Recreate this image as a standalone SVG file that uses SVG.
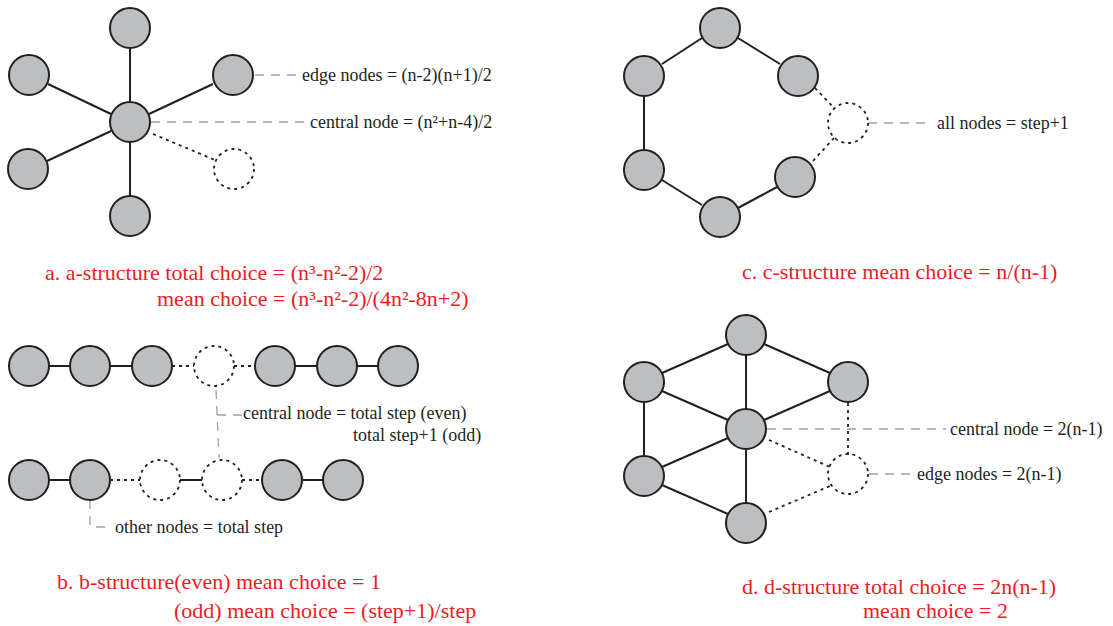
<svg xmlns="http://www.w3.org/2000/svg" width="1113" height="626" viewBox="0 0 1113 626">
<style>
.node{fill:#bcbec0;stroke:#231f20;stroke-width:2}
.ghost{fill:none;stroke:#231f20;stroke-width:1.8;stroke-dasharray:3 4}
.e{stroke:#231f20;stroke-width:2;fill:none}
.d{stroke:#231f20;stroke-width:1.8;stroke-dasharray:3 4;fill:none}
.l{stroke:#a0a0a0;stroke-width:1.3;stroke-dasharray:9 7;fill:none}
.t{font-family:"Liberation Serif","Times New Roman",serif;font-size:18px;fill:#231f20}
.r{font-family:"Liberation Serif","Times New Roman",serif;font-size:22px;fill:#ed1c24}
</style>
<rect width="1113" height="626" fill="#ffffff"/>
<g id="connectors">
<line class="e" x1="130" y1="48" x2="130" y2="103"/>
<line class="e" x1="48" y1="84" x2="111" y2="114"/>
<line class="e" x1="213" y1="84" x2="149" y2="114"/>
<line class="e" x1="47" y1="161" x2="111" y2="131"/>
<line class="e" x1="130" y1="142" x2="130" y2="197"/>
<line class="d" x1="153" y1="134" x2="215" y2="160"/>
<line class="l" x1="255" y1="75" x2="298" y2="75"/>
<line class="l" x1="151" y1="122" x2="306" y2="122"/>
<line class="e" x1="49" y1="366" x2="70" y2="366"/>
<line class="e" x1="110" y1="366" x2="132" y2="366"/>
<line class="d" x1="172" y1="366" x2="194" y2="366"/>
<line class="d" x1="234" y1="366" x2="255" y2="366"/>
<line class="e" x1="295" y1="366" x2="317" y2="366"/>
<line class="e" x1="357" y1="366" x2="378" y2="366"/>
<line class="e" x1="49" y1="480" x2="70" y2="480"/>
<line class="d" x1="110" y1="480" x2="140" y2="480"/>
<line class="e" x1="180" y1="480" x2="202" y2="480"/>
<line class="d" x1="242" y1="480" x2="262" y2="480"/>
<line class="e" x1="302" y1="480" x2="323" y2="480"/>
<path class="l" d="M216,390 L219,458 M217,415 H242"/>
<path class="l" d="M90,500 V528 M96,527 H111"/>
<line class="e" x1="702" y1="38" x2="662" y2="64"/>
<line class="e" x1="738" y1="38" x2="780" y2="64"/>
<line class="e" x1="644" y1="96" x2="644" y2="150"/>
<line class="e" x1="662" y1="180" x2="702" y2="205"/>
<line class="e" x1="738" y1="208" x2="777" y2="187"/>
<line class="d" x1="815" y1="88" x2="834" y2="108"/>
<line class="d" x1="834" y1="138" x2="812" y2="162"/>
<line class="l" x1="868" y1="123" x2="930" y2="123"/>
<line class="e" x1="728" y1="344" x2="662" y2="373"/>
<line class="e" x1="764" y1="344" x2="830" y2="373"/>
<line class="e" x1="746" y1="355" x2="746" y2="409"/>
<line class="e" x1="662" y1="391" x2="728" y2="420"/>
<line class="e" x1="830" y1="391" x2="764" y2="420"/>
<line class="e" x1="644" y1="402" x2="644" y2="456"/>
<line class="e" x1="662" y1="467" x2="728" y2="438"/>
<line class="e" x1="662" y1="485" x2="728" y2="514"/>
<line class="e" x1="746" y1="449" x2="746" y2="503"/>
<line class="d" x1="848" y1="403" x2="848" y2="456"/>
<line class="d" x1="769" y1="440" x2="830" y2="467"/>
<line class="d" x1="769" y1="512" x2="830" y2="486"/>
<line class="l" x1="767" y1="429" x2="946" y2="429"/>
<line class="l" x1="869" y1="474" x2="913" y2="474"/>
</g>
<g id="panel-a">
<g id="a-top"><circle class="node" cx="130" cy="28" r="20"/></g>
<g id="a-left-upper"><circle class="node" cx="29" cy="75" r="20"/></g>
<g id="a-edge"><circle class="node" cx="233" cy="75" r="20"/></g>
<g id="a-center"><circle class="node" cx="130" cy="122" r="20"/></g>
<g id="a-left-lower"><circle class="node" cx="28" cy="169" r="20"/></g>
<g id="a-bottom"><circle class="node" cx="130" cy="216" r="20"/></g>
<g id="a-new"><circle class="ghost" cx="234" cy="169" r="20"/></g>
<text class="t" x="302" y="81">edge nodes = (n-2)(n+1)/2</text>
<text class="t" x="310" y="128">central node = (n²+n-4)/2</text>
<text class="r" x="45" y="280">a. a-structure total choice = (n³-n²-2)/2</text>
<text class="r" x="157" y="306">mean choice = (n³-n²-2)/(4n²-8n+2)</text>
</g>
<g id="panel-b">
<g id="b1"><circle class="node" cx="29" cy="366" r="20"/></g>
<g id="b2"><circle class="node" cx="90" cy="366" r="20"/></g>
<g id="b3"><circle class="node" cx="152" cy="366" r="20"/></g>
<g id="b4"><circle class="ghost" cx="214" cy="366" r="20"/></g>
<g id="b5"><circle class="node" cx="275" cy="366" r="20"/></g>
<g id="b6"><circle class="node" cx="337" cy="366" r="20"/></g>
<g id="b7"><circle class="node" cx="398" cy="366" r="20"/></g>
<g id="b8"><circle class="node" cx="29" cy="480" r="20"/></g>
<g id="b9"><circle class="node" cx="90" cy="480" r="20"/></g>
<g id="b10"><circle class="ghost" cx="160" cy="480" r="20"/></g>
<g id="b11"><circle class="ghost" cx="222" cy="480" r="20"/></g>
<g id="b12"><circle class="node" cx="282" cy="480" r="20"/></g>
<g id="b13"><circle class="node" cx="343" cy="480" r="20"/></g>
<text class="t" x="243" y="419">central node = total step (even)</text>
<text class="t" x="353" y="441">total step+1 (odd)</text>
<text class="t" x="115" y="533">other nodes = total step</text>
<text class="r" x="57" y="589">b. b-structure(even) mean choice = 1</text>
<text class="r" x="174" y="618">(odd) mean choice = (step+1)/step</text>
</g>
<g id="panel-c">
<g id="c-top"><circle class="node" cx="720" cy="28" r="20"/></g>
<g id="c-ul"><circle class="node" cx="644" cy="76" r="20"/></g>
<g id="c-ur"><circle class="node" cx="798" cy="76" r="20"/></g>
<g id="c-ll"><circle class="node" cx="644" cy="170" r="20"/></g>
<g id="c-bottom"><circle class="node" cx="720" cy="217" r="20"/></g>
<g id="c-lr"><circle class="node" cx="795" cy="177" r="20"/></g>
<g id="c-new"><circle class="ghost" cx="848" cy="123" r="20"/></g>
<text class="t" x="937" y="129">all nodes = step+1</text>
<text class="r" x="742" y="279">c. c-structure mean choice = n/(n-1)</text>
</g>
<g id="panel-d">
<g id="d-top"><circle class="node" cx="746" cy="335" r="20"/></g>
<g id="d-ul"><circle class="node" cx="644" cy="382" r="20"/></g>
<g id="d-ur"><circle class="node" cx="848" cy="382" r="20"/></g>
<g id="d-center"><circle class="node" cx="746" cy="429" r="20"/></g>
<g id="d-ll"><circle class="node" cx="644" cy="476" r="20"/></g>
<g id="d-bottom"><circle class="node" cx="746" cy="523" r="20"/></g>
<g id="d-new"><circle class="ghost" cx="848" cy="474" r="20"/></g>
<text class="t" x="950" y="435">central node = 2(n-1)</text>
<text class="t" x="917" y="480">edge nodes = 2(n-1)</text>
<text class="r" x="742" y="594">d. d-structure total choice = 2n(n-1)</text>
<text class="r" x="863" y="618">mean choice = 2</text>
</g>
</svg>
